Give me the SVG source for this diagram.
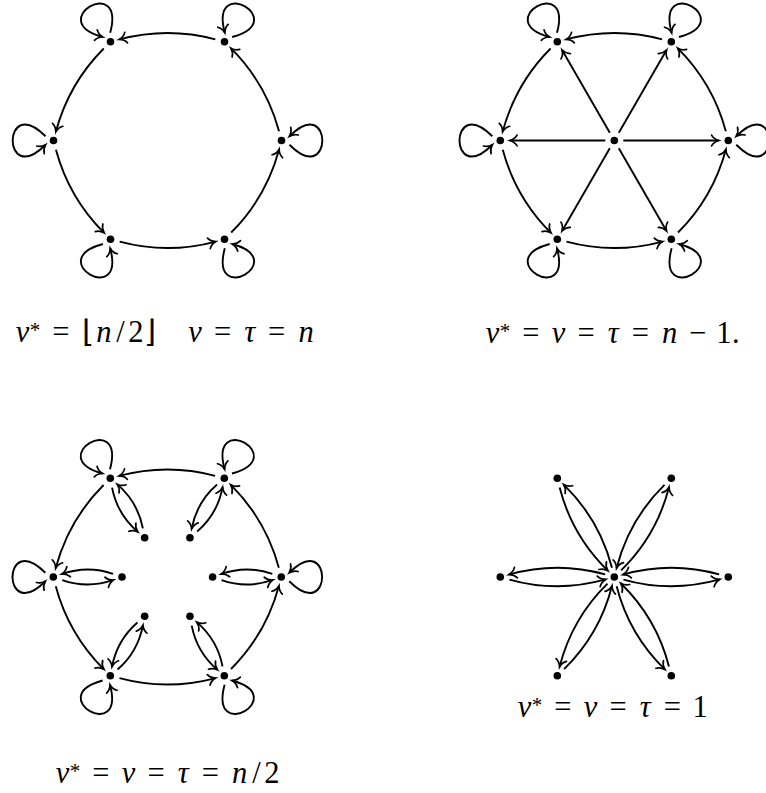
<svg xmlns="http://www.w3.org/2000/svg" width="766" height="793" viewBox="0 0 766 793">
<style>
.e{fill:none;stroke:#000;stroke-width:1.9;marker-end:url(#arr)}
.node circle{fill:#000}
.lbl{font-size:30.5px;text-anchor:middle;fill:#000}
.i{font-style:italic}
.sup{font-size:21px}
</style>
<defs>
<marker id="arr" viewBox="-9 -7 11 14" refX="0" refY="0" markerWidth="11" markerHeight="14" markerUnits="userSpaceOnUse" orient="auto" overflow="visible">
<path d="M-7.2,-5.4 C-5.6,-2.5 -2.4,-0.7 0,0 C-2.4,0.7 -5.6,2.5 -7.2,5.4" fill="none" stroke="#000" stroke-width="1.7" stroke-linecap="round"/>
</marker>
</defs>

<g id="graph1" transform="translate(167.5,140.5)">
<g id="g1-connectors">
<path class="e" d="M111.54,-9.18 Q98.73,-57 63.36,-92.37"/>
<path class="e" d="M47.82,-101.19 Q0,-114 -48.31,-101.06"/>
<path class="e" d="M-63.72,-92.01 Q-98.73,-57 -111.67,-8.69"/>
<path class="e" d="M-111.54,9.18 Q-98.73,57 -63.36,92.37"/>
<path class="e" d="M-47.82,101.19 Q0,114 48.31,101.06"/>
<path class="e" d="M63.72,92.01 Q98.73,57 111.67,8.69"/>
<path class="e" transform="translate(114,0)" d="M7.95,4.23 C51.8,48.1 51.8,-48.1 7.95,-4.23"/>
<path class="e" transform="translate(57,-98.73) rotate(-60)" d="M7.95,4.23 C51.8,48.1 51.8,-48.1 7.95,-4.23"/>
<path class="e" transform="translate(-57,-98.73) rotate(-120)" d="M7.95,4.23 C51.8,48.1 51.8,-48.1 7.95,-4.23"/>
<path class="e" transform="translate(-114,0) rotate(-180)" d="M7.95,4.23 C51.8,48.1 51.8,-48.1 7.95,-4.23"/>
<path class="e" transform="translate(-57,98.73) rotate(-240)" d="M7.95,4.23 C51.8,48.1 51.8,-48.1 7.95,-4.23"/>
<path class="e" transform="translate(57,98.73) rotate(-300)" d="M7.95,4.23 C51.8,48.1 51.8,-48.1 7.95,-4.23"/>
</g>
<g id="g1-v0" class="node"><circle cx="114" cy="0" r="3.8"/></g>
<g id="g1-v1" class="node"><circle cx="57" cy="-98.73" r="3.8"/></g>
<g id="g1-v2" class="node"><circle cx="-57" cy="-98.73" r="3.8"/></g>
<g id="g1-v3" class="node"><circle cx="-114" cy="0" r="3.8"/></g>
<g id="g1-v4" class="node"><circle cx="-57" cy="98.73" r="3.8"/></g>
<g id="g1-v5" class="node"><circle cx="57" cy="98.73" r="3.8"/></g>
</g>

<g id="graph2" transform="translate(614.3,140.5)">
<g id="g2-connectors">
<path class="e" d="M111.54,-9.18 Q98.73,-57 63.36,-92.37"/>
<path class="e" d="M47.82,-101.19 Q0,-114 -48.31,-101.06"/>
<path class="e" d="M-63.72,-92.01 Q-98.73,-57 -111.67,-8.69"/>
<path class="e" d="M-111.54,9.18 Q-98.73,57 -63.36,92.37"/>
<path class="e" d="M-47.82,101.19 Q0,114 48.31,101.06"/>
<path class="e" d="M63.72,92.01 Q98.73,57 111.67,8.69"/>
<path class="e" transform="translate(114,0)" d="M7.95,4.23 C51.8,48.1 51.8,-48.1 7.95,-4.23"/>
<path class="e" transform="translate(57,-98.73) rotate(-60)" d="M7.95,4.23 C51.8,48.1 51.8,-48.1 7.95,-4.23"/>
<path class="e" transform="translate(-57,-98.73) rotate(-120)" d="M7.95,4.23 C51.8,48.1 51.8,-48.1 7.95,-4.23"/>
<path class="e" transform="translate(-114,0) rotate(-180)" d="M7.95,4.23 C51.8,48.1 51.8,-48.1 7.95,-4.23"/>
<path class="e" transform="translate(-57,98.73) rotate(-240)" d="M7.95,4.23 C51.8,48.1 51.8,-48.1 7.95,-4.23"/>
<path class="e" transform="translate(57,98.73) rotate(-300)" d="M7.95,4.23 C51.8,48.1 51.8,-48.1 7.95,-4.23"/>
<path class="e" d="M9,0 L104.5,0"/>
<path class="e" d="M4.5,-7.79 L52.25,-90.5"/>
<path class="e" d="M-4.5,-7.79 L-52.25,-90.5"/>
<path class="e" d="M-9,0 L-104.5,0"/>
<path class="e" d="M-4.5,7.79 L-52.25,90.5"/>
<path class="e" d="M4.5,7.79 L52.25,90.5"/>
</g>
<g id="g2-c" class="node"><circle cx="0" cy="0" r="3.8"/></g>
<g id="g2-v0" class="node"><circle cx="114" cy="0" r="3.8"/></g>
<g id="g2-v1" class="node"><circle cx="57" cy="-98.73" r="3.8"/></g>
<g id="g2-v2" class="node"><circle cx="-57" cy="-98.73" r="3.8"/></g>
<g id="g2-v3" class="node"><circle cx="-114" cy="0" r="3.8"/></g>
<g id="g2-v4" class="node"><circle cx="-57" cy="98.73" r="3.8"/></g>
<g id="g2-v5" class="node"><circle cx="57" cy="98.73" r="3.8"/></g>
</g>

<g id="graph3" transform="translate(167.3,577)">
<g id="g3-connectors">
<path class="e" d="M111.54,-9.18 Q98.73,-57 63.36,-92.37"/>
<path class="e" d="M47.82,-101.19 Q0,-114 -48.31,-101.06"/>
<path class="e" d="M-63.72,-92.01 Q-98.73,-57 -111.67,-8.69"/>
<path class="e" d="M-111.54,9.18 Q-98.73,57 -63.36,92.37"/>
<path class="e" d="M-47.82,101.19 Q0,114 48.31,101.06"/>
<path class="e" d="M63.72,92.01 Q98.73,57 111.67,8.69"/>
<path class="e" transform="translate(114,0)" d="M7.95,4.23 C51.8,48.1 51.8,-48.1 7.95,-4.23"/>
<path class="e" transform="translate(57,-98.73) rotate(-60)" d="M7.95,4.23 C51.8,48.1 51.8,-48.1 7.95,-4.23"/>
<path class="e" transform="translate(-57,-98.73) rotate(-120)" d="M7.95,4.23 C51.8,48.1 51.8,-48.1 7.95,-4.23"/>
<path class="e" transform="translate(-114,0) rotate(-180)" d="M7.95,4.23 C51.8,48.1 51.8,-48.1 7.95,-4.23"/>
<path class="e" transform="translate(-57,98.73) rotate(-240)" d="M7.95,4.23 C51.8,48.1 51.8,-48.1 7.95,-4.23"/>
<path class="e" transform="translate(57,98.73) rotate(-300)" d="M7.95,4.23 C51.8,48.1 51.8,-48.1 7.95,-4.23"/>
<g><path class="e" d="M105.03,-3.13 Q79.65,-12 53.8,-2.97"/><path class="e" d="M54.27,3.13 Q79.65,12 105.5,2.97"/></g>
<g transform="rotate(-60)"><path class="e" d="M105.03,-3.13 Q79.65,-12 53.8,-2.97"/><path class="e" d="M54.27,3.13 Q79.65,12 105.5,2.97"/></g>
<g transform="rotate(-120)"><path class="e" d="M105.03,-3.13 Q79.65,-12 53.8,-2.97"/><path class="e" d="M54.27,3.13 Q79.65,12 105.5,2.97"/></g>
<g transform="rotate(-180)"><path class="e" d="M105.03,-3.13 Q79.65,-12 53.8,-2.97"/><path class="e" d="M54.27,3.13 Q79.65,12 105.5,2.97"/></g>
<g transform="rotate(-240)"><path class="e" d="M105.03,-3.13 Q79.65,-12 53.8,-2.97"/><path class="e" d="M54.27,3.13 Q79.65,12 105.5,2.97"/></g>
<g transform="rotate(-300)"><path class="e" d="M105.03,-3.13 Q79.65,-12 53.8,-2.97"/><path class="e" d="M54.27,3.13 Q79.65,12 105.5,2.97"/></g>
</g>
<g id="g3-v0" class="node"><circle cx="114" cy="0" r="3.8"/></g>
<g id="g3-v1" class="node"><circle cx="57" cy="-98.73" r="3.8"/></g>
<g id="g3-v2" class="node"><circle cx="-57" cy="-98.73" r="3.8"/></g>
<g id="g3-v3" class="node"><circle cx="-114" cy="0" r="3.8"/></g>
<g id="g3-v4" class="node"><circle cx="-57" cy="98.73" r="3.8"/></g>
<g id="g3-v5" class="node"><circle cx="57" cy="98.73" r="3.8"/></g>
<g id="g3-i0" class="node"><circle cx="45.3" cy="0" r="3.8"/></g>
<g id="g3-i1" class="node"><circle cx="22.65" cy="-39.23" r="3.8"/></g>
<g id="g3-i2" class="node"><circle cx="-22.65" cy="-39.23" r="3.8"/></g>
<g id="g3-i3" class="node"><circle cx="-45.3" cy="0" r="3.8"/></g>
<g id="g3-i4" class="node"><circle cx="-22.65" cy="39.23" r="3.8"/></g>
<g id="g3-i5" class="node"><circle cx="22.65" cy="39.23" r="3.8"/></g>
</g>

<g id="graph4" transform="translate(614.3,577)">
<g id="g4-connectors">
<g><path class="e" d="M9.15,2.57 Q57,16 105.33,2.43"/><path class="e" d="M104.85,-2.57 Q57,-16 8.67,-2.43"/></g>
<g transform="rotate(-60)"><path class="e" d="M9.15,2.57 Q57,16 105.33,2.43"/><path class="e" d="M104.85,-2.57 Q57,-16 8.67,-2.43"/></g>
<g transform="rotate(-120)"><path class="e" d="M9.15,2.57 Q57,16 105.33,2.43"/><path class="e" d="M104.85,-2.57 Q57,-16 8.67,-2.43"/></g>
<g transform="rotate(-180)"><path class="e" d="M9.15,2.57 Q57,16 105.33,2.43"/><path class="e" d="M104.85,-2.57 Q57,-16 8.67,-2.43"/></g>
<g transform="rotate(-240)"><path class="e" d="M9.15,2.57 Q57,16 105.33,2.43"/><path class="e" d="M104.85,-2.57 Q57,-16 8.67,-2.43"/></g>
<g transform="rotate(-300)"><path class="e" d="M9.15,2.57 Q57,16 105.33,2.43"/><path class="e" d="M104.85,-2.57 Q57,-16 8.67,-2.43"/></g>
</g>
<g id="g4-c" class="node"><circle cx="0" cy="0" r="3.8"/></g>
<g id="g4-v0" class="node"><circle cx="114" cy="0" r="3.8"/></g>
<g id="g4-v1" class="node"><circle cx="57" cy="-98.73" r="3.8"/></g>
<g id="g4-v2" class="node"><circle cx="-57" cy="-98.73" r="3.8"/></g>
<g id="g4-v3" class="node"><circle cx="-114" cy="0" r="3.8"/></g>
<g id="g4-v4" class="node"><circle cx="-57" cy="98.73" r="3.8"/></g>
<g id="g4-v5" class="node"><circle cx="57" cy="98.73" r="3.8"/></g>
</g>

<g id="labels" font-family="Liberation Serif, serif">
<text class="lbl" font-family="Liberation Serif, serif" y="342"><tspan class="i" x="22.4" y="342">ν</tspan><tspan class="sup" x="35.1" y="337">*</tspan><tspan x="60.8" y="342">=</tspan><tspan x="87.9">⌊</tspan><tspan class="i" x="103.8">n</tspan><tspan x="120.6">/</tspan><tspan x="135.8">2</tspan><tspan x="150.2">⌋</tspan><tspan class="i" x="194.9">ν</tspan><tspan x="222.6">=</tspan><tspan class="i" x="249.6">τ</tspan><tspan x="276.6">=</tspan><tspan class="i" x="306.1">n</tspan></text>
<text class="lbl" font-family="Liberation Serif, serif" y="343"><tspan class="i" x="492.4" y="343">ν</tspan><tspan class="sup" x="505.1" y="338">*</tspan><tspan x="530.8" y="343">=</tspan><tspan class="i" x="558.5">ν</tspan><tspan x="586.2">=</tspan><tspan class="i" x="613.3">τ</tspan><tspan x="640.3">=</tspan><tspan class="i" x="669.7">n</tspan><tspan x="697.5">−</tspan><tspan x="723.8">1</tspan><tspan x="735.7">.</tspan></text>
<text class="lbl" font-family="Liberation Serif, serif" y="783"><tspan class="i" x="62.4" y="783">ν</tspan><tspan class="sup" x="75.1" y="778">*</tspan><tspan x="100.8" y="783">=</tspan><tspan class="i" x="128.5">ν</tspan><tspan x="156.2">=</tspan><tspan class="i" x="183.3">τ</tspan><tspan x="210.3">=</tspan><tspan class="i" x="239.7">n</tspan><tspan x="256.5">/</tspan><tspan x="271.8">2</tspan></text>
<text class="lbl" font-family="Liberation Serif, serif" y="717"><tspan class="i" x="524.4" y="717">ν</tspan><tspan class="sup" x="537.1" y="712">*</tspan><tspan x="562.8" y="717">=</tspan><tspan class="i" x="590.5">ν</tspan><tspan x="618.2">=</tspan><tspan class="i" x="645.3">τ</tspan><tspan x="672.3">=</tspan><tspan x="700.2">1</tspan></text>
</g>
</svg>
